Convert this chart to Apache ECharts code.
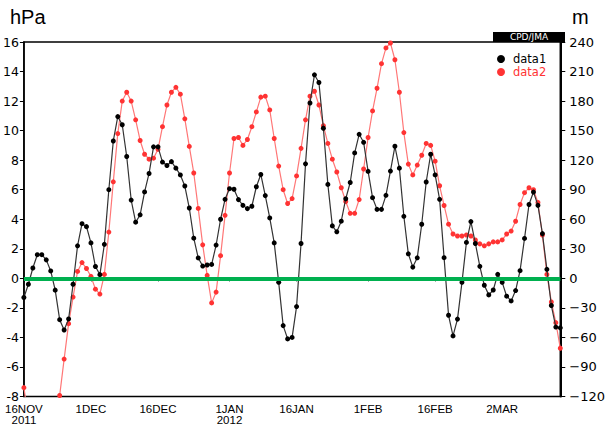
<!DOCTYPE html>
<html>
<head>
<meta charset="utf-8">
<script src="https://cdn.jsdelivr.net/npm/echarts@6/dist/echarts.min.js"></script>
<style>html,body{margin:0;padding:0;background:#fff;}#c{width:608px;height:426px;}</style>
</head>
<body>
<div id="c"></div>
<script>
// ---- data ----
var startDate = [2011, 10, 16]; // 16 Nov 2011 (month 0-based)
var nDays = 121;
var tickIdx = [0, 15, 30, 46, 61, 77, 92, 107];
var tickLabels = ['16NOV\n2011', '1DEC', '16DEC', '1JAN\n2012', '16JAN', '1FEB', '16FEB', '2MAR'];
var hpaTicks = {min: -8, max: 16, step: 2};
var mTicks = {min: -120, max: 240, step: 30};

// data1 : hPa (left axis)
var data1 = [
 -1.3,-0.4,0.7,1.6,1.6,1.25,0.5,-0.8,-2.8,-3.5,
 -2.75,-0.4,2.2,3.7,3.5,2.4,0.8,0.25,2.3,6.0,
 9.3,10.95,10.4,8.25,5.3,3.8,4.3,5.85,7.1,8.9,
 8.9,7.87,7.64,7.9,7.46,7.0,6.25,4.76,2.72,1.38,
 0.83,0.9,0.94,2.25,4.0,5.35,6.07,6.03,5.33,4.94,
 4.72,4.88,6.2,7.03,5.6,4.09,2.4,-0.27,-3.2,-4.1,
 -4.0,-1.91,2.36,7.75,11.87,13.78,13.26,10.16,6.36,3.55,
 3.15,3.87,5.39,6.49,8.49,9.75,9.21,7.24,5.46,4.67,
 4.67,5.62,7.26,8.94,7.46,4.2,1.66,0.76,1.39,3.66,
 6.52,8.4,7.0,5.35,1.4,-2.5,-3.9,-2.76,-0.27,2.43,
 3.84,2.36,0.81,-0.47,-1.12,-0.79,0.27,-0.27,-1.21,-1.53,
 -0.83,0.52,2.7,5.0,5.84,4.94,3.03,0.61,-1.84,-3.3,
 -3.35
];
// data2 : m (right axis)
var data2 = [
 -111,-142,-165,-180,-185,-180,-165,-144,-119,-82,
 -46,-19,7,16,10,2,-11,-16,4,47,
 98,147,180,189,180,161,140,126,121,122,
 131,154,176,189,194,187,162,134,107,71,
 34,3,-25,-14,23,64,107,142,143,135,
 141,154,169,184,185,171,142,114,90,76,
 81,104,132,161,185,190,176,155,137,121,
 108,92,78,66,66,80,111,143,170,193,
 218,234,239,222,189,148,116,105,115,125,
 137,135,119,94,74,55,45,43,43,44,
 43,39,35,33,35,37,37,39,45,48,
 58,75,87,92,90,77,44,4,-24,-45,
 -71
];

// categories (dates)
var categories = [];
for (var i = 0; i < nDays; i++) {
  var d = new Date(Date.UTC(startDate[0], startDate[1], startDate[2] + i));
  categories.push(d.toISOString().slice(0, 10));
}
function tickLabelFor(idx) {
  var k = tickIdx.indexOf(idx);
  return k >= 0 ? tickLabels[k] : '';
}

var chart = echarts.init(document.getElementById('c'), null, {renderer: 'svg'});
var axisFont = 'DejaVu Sans';
chart.setOption({
  animation: false,
  backgroundColor: '#fff',
  grid: {left: 23, right: 43, top: 42, bottom: 25, show: true, borderColor: '#000', borderWidth: 1.5, containLabel: false},
  legend: {
    orient: 'vertical', left: 492, top: 48, itemGap: 1,
    itemWidth: 14, itemHeight: 8, icon: 'circle',
    textStyle: {fontFamily: axisFont, fontSize: 11.5, lineHeight: 10},
    data: [
      {name: 'data1', textStyle: {color: '#000'}},
      {name: 'data2', textStyle: {color: '#ff3333'}}
    ]
  },
  graphic: [
    {type: 'text', left: 10, top: 7, style: {text: 'hPa', font: '20px "Liberation Sans"', fill: '#000'}},
    {type: 'text', left: 572, top: 7, style: {text: 'm', font: '20px "Liberation Sans"', fill: '#000'}},
    {type: 'rect', shape: {x: 493, y: 32, width: 72, height: 10}, style: {fill: '#000'}},
    {type: 'text', x: 529, y: 37, style: {text: 'CPD/JMA', font: '9px "DejaVu Sans"', fill: '#fff', align: 'center', verticalAlign: 'middle'}}
  ],
  xAxis: {
    type: 'category', data: categories, boundaryGap: false,
    axisLine: {lineStyle: {color: '#000', width: 1.5}},
    axisTick: {show: true, length: 3, interval: function (i) { return tickIdx.indexOf(i) >= 0; }, lineStyle: {color: '#000'}},
    axisLabel: {
      interval: function (i) { return tickIdx.indexOf(i) >= 0; },
      formatter: function (v, i) { return tickLabelFor(i); },
      fontFamily: 'Liberation Sans', fontSize: 11.5, lineHeight: 11, color: '#000', margin: 7
    },
    splitLine: {show: false}
  },
  yAxis: [
    {
      type: 'value', position: 'left', min: hpaTicks.min, max: hpaTicks.max, interval: hpaTicks.step,
      axisLine: {show: true, lineStyle: {color: '#000', width: 1.5}},
      axisTick: {show: true, length: 4, lineStyle: {color: '#000'}},
      axisLabel: {fontFamily: axisFont, fontSize: 12.5, color: '#000', margin: 5},
      splitLine: {show: false}
    },
    {
      type: 'value', position: 'right', min: mTicks.min, max: mTicks.max, interval: mTicks.step,
      axisLine: {show: true, lineStyle: {color: '#000', width: 2}},
      axisTick: {show: true, length: 5, lineStyle: {color: '#000'}},
      axisLabel: {fontFamily: axisFont, fontSize: 13, color: '#000', margin: 9,
        formatter: function (v) { return String(v).replace('-', '\u2212'); }},
      splitLine: {show: false}
    }
  ],
  series: [
    {
      name: 'data2', type: 'line', yAxisIndex: 1, data: data2, clip: true,
      symbol: 'circle', symbolSize: 5, showAllSymbol: true,
      itemStyle: {color: '#ff3333'},
      lineStyle: {color: '#ff7777', width: 1.2},
      z: 3
    },
    {
      name: 'data1', type: 'line', yAxisIndex: 0, data: data1, clip: true,
      symbol: 'circle', symbolSize: 5, showAllSymbol: true,
      itemStyle: {color: '#000'},
      lineStyle: {color: '#333', width: 1.2},
      z: 4,
      markLine: {
        silent: true, symbol: ['none', 'none'], label: {show: false},
        lineStyle: {color: '#00b04f', width: 4, type: 'solid'},
        emphasis: {disabled: true},
        data: [{yAxis: 0}]
      }
    }
  ]
});
</script>
</body>
</html>
